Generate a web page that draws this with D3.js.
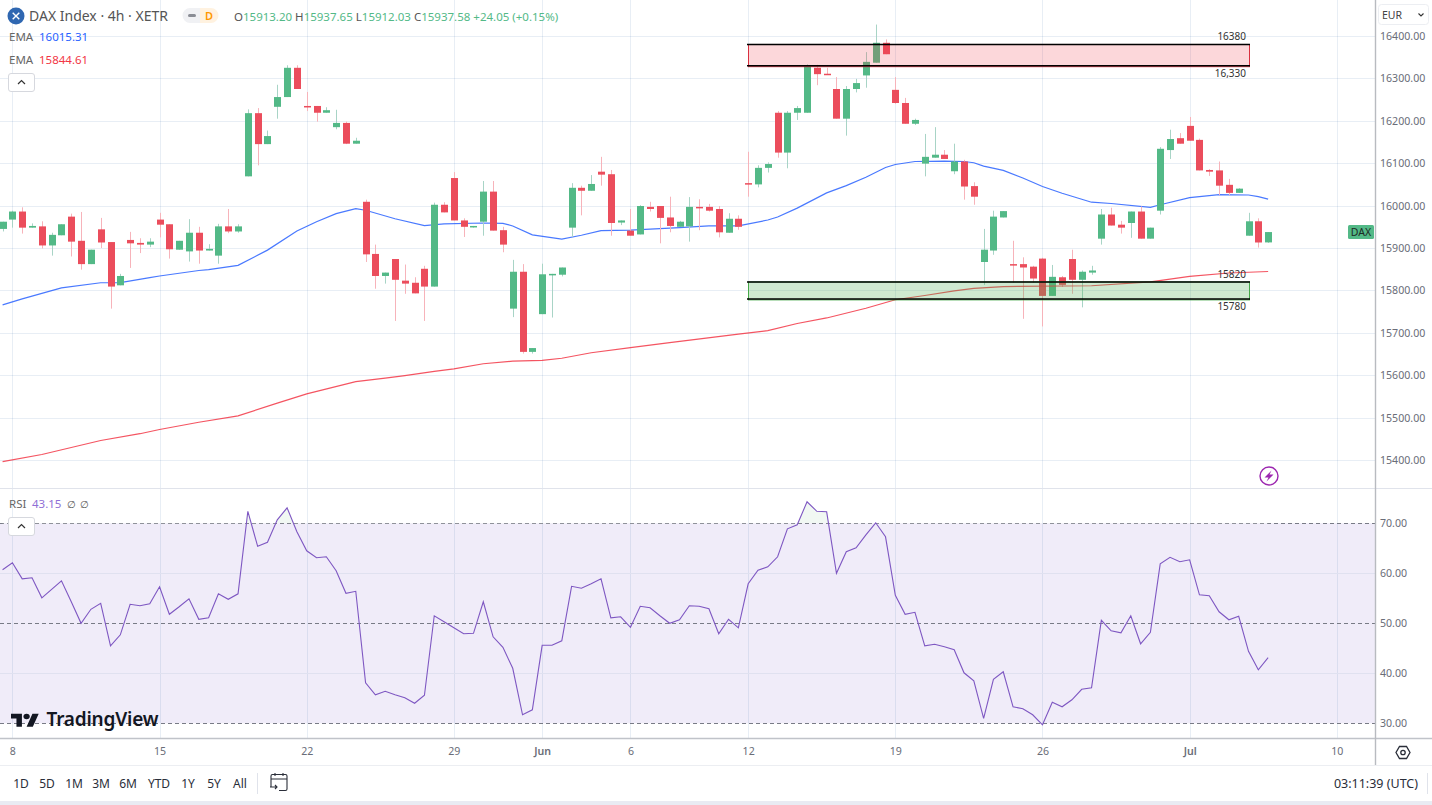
<!DOCTYPE html>
<html><head><meta charset="utf-8">
<script src="https://cdn.jsdelivr.net/npm/d3@7"></script>
<style>
html,body{margin:0;padding:0;background:#fff;overflow:hidden}
text{font-family:"Noto Sans","Open Sans",sans-serif}
</style></head><body><svg id="c" width="1432" height="805"></svg>
<script>
// ---- data (bars run from bar -1 to bar 128) ----
const opens=[15945,15967,15986,15948,15951,15906,15930,15974,15917,15862,
15944,15914,15812,15919,15912,15908,15967,15956,15896,15892,
15936,15894,15882,15951,15939,16069,16218,16145,16233,16256,
16325,16235,16235,16219,16185,16195,16146,16009,15886,15834,
15874,15823,15818,15851,15809,16002,16065,15965,15950,15962,
16033,15942,15757,15844,15655,15744,15837,15837,15948,16042,
16035,16080,16074,15960,15941,15932,15997,15999,15972,15950,
15951,15997,15997,15992,15936,15969,16053,16050,16089,16219,
16125,16219,16219,16325,16311,16275,16205,16275,16307,16337,
16384,16273,16242,16193,16099,16113,16120,16081,16104,16046,
15867,15894,15972,15862,15862,15856,15875,15787,15831,15874,
15825,15842,15922,15979,15955,15959,15986,15922,15988,16131,
16159,16188,16155,16084,16083,16049,16030,15929,15963,15913.20];
const highs=[15962,15988,15996,15958,15963,15936,15956,15981,15985,15896,
15971,15914,15839,15938,15923,15923,15983,15956,15917,15968,
15950,15909,15957,15992,15956,16227,16230,16177,16285,16331,
16331,16268,16235,16232,16226,16198,16160,16014,15908,15842,
15874,15861,15831,15858,16007,16008,16079,15970,15952,16058,
16058,15950,15872,15862,15664,15863,15839,15854,16053,16047,
16072,16115,16084,15965,15992,16001,16009,15999,16021,15964,
16020,16015,16004,15999,15982,15977,16127,16095,16102,16223,
16223,16235,16333,16332,16325,16303,16282,16299,16362,16427,
16392,16303,16254,16205,16169,16185,16131,16146,16108,16055,
15945,15988,15987,15917,15878,15858,15877,15860,15834,15896,
15847,15858,15992,15995,15964,15986,15998,15948,16138,16179,
16171,16209,16158,16086,16104,16063,16041,15983,15970,15937.65];
const lows=[15939,15948,15934,15948,15899,15882,15930,15880,15849,15862,
15900,15757,15812,15853,15888,15902,15925,15875,15896,15868,
15863,15894,15863,15935,15936,16069,16095,16145,16205,16256,
16275,16223,16198,16219,16180,16145,16146,15867,15804,15816,
15728,15792,15793,15728,15809,15984,15965,15926,15948,15929,
15941,15890,15737,15651,15651,15744,15736,15833,15926,15977,
16035,16047,15929,15954,15929,15932,15986,15911,15937,15950,
15915,15942,15986,15925,15936,15943,16021,16043,16078,16113,
16088,16202,16219,16284,16309,16205,16165,16267,16278,16337,
16357,16240,16193,16190,16069,16113,16110,16074,16014,16002,
15813,15884,15972,15818,15733,15818,15715,15787,15808,15792,
15760,15837,15908,15953,15934,15924,15922,15922,15979,16110,
16146,16153,16083,16070,16025,16025,16030,15929,15901,15912.03];
const closes=[15962,15986,15948,15952,15906,15931,15956,15915,15862,15896,
15913,15809,15834,15911,15908,15915,15955,15897,15917,15936,
15894,15898,15951,15939,15951,16218,16145,16164,16256,16325,
16275,16233,16219,16225,16195,16146,16153,15885,15834,15842,
15825,15816,15793,15809,16002,15984,15965,15950,15952,16033,
15941,15908,15844,15655,15664,15838,15839,15854,16042,16035,
16051,16073,15959,15965,15929,15999,15992,15971,15952,15962,
15997,15995,15988,15937,15969,15950,16050,16089,16098,16125,
16219,16230,16329,16310,16309,16205,16275,16289,16339,16384,
16357,16242,16193,16202,16115,16120,16110,16104,16045,16021,
15896,15974,15987,15860,15854,15828,15787,15832,15813,15825,
15844,15847,15979,15953,15948,15986,15922,15948,16134,16157,
16146,16153,16083,16080,16047,16030,16040,15963,15913,15937.58];
const rsiValues=[60.7,62.1,58.9,59.1,55.1,56.8,58.5,54.3,50,52.8,
54,45.5,47.7,53.8,53.5,53.9,57.3,51.8,53.3,54.9,
50.8,51.1,55.9,54.8,55.9,72.4,65.4,66.2,70.7,73.1,
68.3,64.5,63.1,63.3,60.5,56,56.4,38.1,35.7,36.4,
35.7,35.1,34,35.6,51.5,50.3,49.1,47.9,48,54.3,
47.3,45.2,41,31.7,32.7,45.6,45.6,46.5,57.4,57,
57.9,58.9,51.1,51.3,49.2,53.4,53.1,51.5,50,50.7,
53.5,53.4,52.9,47.9,50.8,49.1,57.9,60.6,61.3,63.3,
68.9,69.7,74.3,72.4,72.3,60,64.3,65.1,67.7,70.1,
67.3,55.6,51.8,52.2,45.5,45.8,45.3,44.7,40.1,38.5,
31,38.8,40.3,33.3,32.9,31.7,29.7,34.2,33.3,34.7,
36.8,37.1,50.6,48.5,48.1,51.5,45.9,48.2,61.9,63.2,
62.3,62.7,55.7,55.5,52.3,50.7,51.4,44.4,40.7,43.15];
const emaFastBars=[-1,1,5,9,11,14,15,19,20,23,26,29,31,33,35,36,39,42,44,48,50,51,53,56,58,60,63,68,71,74,77,78,80,83,85,87,89,90,92,95,97,98,99,101,103,105,107,110,112,116,117,120,123,126,127,128];
const emaFastValues=[15766,15780,15806,15818,15818.5,15830,15834,15847,15849,15859,15895,15940,15962,15981,15993,15989,15969,15953,15957,15959,15958,15952,15931,15921,15930,15941,15942,15948,15952,15952,15966,15973,15994,16030,16047,16067,16090,16097,16104,16105,16104,16101,16093,16083,16065,16045,16029,16008,16005,15996,16002,16019,16026,16025,16021,16015.31];
const emaSlowBars=[-1,3,9,13,15,19,23,27,30,35,38,40,43,45,48,51,54,56,59,63,67,74,77,80,83,87,90,93,96,98,101,110,116,120,124,128];
const emaSlowValues=[15396,15413,15446,15462,15472,15489,15504,15534,15556,15585,15593,15599,15609,15615,15627,15633,15635,15640,15653,15665,15677,15697,15705,15722,15735,15758,15778,15788,15799,15805,15809,15811,15820,15833,15841,15844.61];
const priceTicks=[15400,15500,15600,15700,15800,15900,16000,16100,16200,16300,16400];
const rsiTicks=[30,40,50,60,70];
const rsiDashed=[30,50,70];
const dateBars=[0,15,30,45,54,63,75,90,105,120,135];
const dateLabels=["8","15","22","29","Jun","6","12","19","26","Jul","10"];
const resistance=[16330,16380], support=[15780,15820];
const zoneBars=[75,126];
const ranges=["1D","5D","1M","3M","6M","YTD","1Y","5Y","All"];
const rangeCenters=[21,47,74,101,128,159,188,214,240];

// ---- layout and scales ----
const W=1432,axisX=1375;
const x=d3.scaleLinear().domain([0,135]).range([12.4,1336.8]);
const y=d3.scaleLinear().domain([15400,16400]).range([460,36]);
const r=d3.scaleLinear().domain([30,70]).range([723.3,523.3]);
const bars=opens.map((o,i)=>({bar:i-1,o,h:highs[i],l:lows[i],c:closes[i]}));
const UP="#53b987",DN="#eb4d5c",UPW="#a8d4c6",DNW="#f7b3ba",GRID="rgba(42,100,160,.11)",TXT="#6a6d78";
const px=v=>Math.round(v)+.5;
const svg=d3.select("#c");
svg.append("rect").attr("width",W).attr("height",805).attr("fill","#fff");

// RSI band
svg.append("rect").attr("x",0).attr("width",axisX).attr("y",r(70)).attr("height",r(30)-r(70)).attr("fill","#f0ecf9");

// grid
svg.append("g").selectAll("line").data(dateBars).join("line")
 .attr("x1",d=>px(x(d))).attr("x2",d=>px(x(d))).attr("y1",0).attr("y2",738)
 .attr("stroke",GRID);
svg.append("g").selectAll("line").data(priceTicks).join("line")
 .attr("x1",0).attr("x2",axisX).attr("y1",d=>px(y(d))).attr("y2",d=>px(y(d))).attr("stroke",GRID);
svg.append("g").selectAll("line").data([40,60]).join("line")
 .attr("x1",0).attr("x2",axisX).attr("y1",d=>px(r(d))).attr("y2",d=>px(r(d))).attr("stroke","#e0e1f0");
svg.append("g").selectAll("line").data(rsiDashed).join("line")
 .attr("x1",0).attr("x2",axisX).attr("y1",d=>Math.round(r(d))+.5).attr("y2",d=>Math.round(r(d))+.5)
 .attr("stroke","#787b86").attr("stroke-dasharray","4 3");

// pane separators
svg.append("line").attr("x1",0).attr("x2",W).attr("y1",488.5).attr("y2",488.5).attr("stroke","#e0e3eb");
svg.append("line").attr("x1",0).attr("x2",W).attr("y1",738.5).attr("y2",738.5).attr("stroke","#c0c3c9").attr("stroke-width",1.4);
svg.append("line").attr("x1",0).attr("x2",W).attr("y1",765.5).attr("y2",765.5).attr("stroke","#eceef2");
svg.append("rect").attr("x",0).attr("y",801).attr("width",W).attr("height",4).attr("fill","#e9ebf3");
svg.append("line").attr("x1",axisX+.5).attr("x2",axisX+.5).attr("y1",0).attr("y2",765).attr("stroke","#b8bbc0").attr("stroke-width",1.4);

// EMA lines
const lineFast=d3.line().x((d,i)=>x(emaFastBars[i])).y(d=>y(d));
const lineSlow=d3.line().x((d,i)=>x(emaSlowBars[i])).y(d=>y(d));
svg.append("path").attr("d",lineFast(emaFastValues)).attr("fill","none").attr("stroke","#2962ff").attr("stroke-width",1.2).attr("opacity",.85);

// candles
const cg=svg.append("g");
cg.selectAll("line").data(bars).join("line")
 .attr("x1",d=>px(x(d.bar))).attr("x2",d=>px(x(d.bar)))
 .attr("y1",d=>y(d.h)).attr("y2",d=>y(d.l))
 .attr("stroke",d=>d.c>=d.o?UPW:DNW).attr("stroke-width",1);
cg.selectAll("rect").data(bars).join("rect")
 .attr("x",d=>Math.round(x(d.bar))-3).attr("width",7)
 .attr("y",d=>y(Math.max(d.o,d.c)))
 .attr("height",d=>Math.max(1.5,Math.abs(y(d.o)-y(d.c))))
 .attr("fill",d=>d.c>=d.o?UP:DN);
svg.append("path").attr("d",lineSlow(emaSlowValues)).attr("fill","none").attr("stroke","#f23645").attr("stroke-width",1.2).attr("opacity",.85);

// zones
function zone(vals,fill,edge){
 const x0=Math.round(x(zoneBars[0])),x1=Math.round(x(zoneBars[1]));
 const t=y(vals[1]),b=y(vals[0]);
 svg.append("rect").attr("x",x0+.5).attr("y",t).attr("width",x1-x0).attr("height",b-t+1)
  .attr("fill",fill).attr("stroke",edge).attr("stroke-width",1);
 [t,b].forEach(v=>svg.append("line").attr("x1",x0-1).attr("x2",x1+1).attr("y1",v).attr("y2",v).attr("stroke","#000").attr("stroke-width",1.5));
}
zone(resistance,"rgba(242,54,69,.2)","#d9303f");
zone(support,"rgba(76,175,80,.27)","#45a849");
const zoneLabels=[["16380",y(resistance[1])-4],["16,330",y(resistance[0])+11],["15820",y(support[1])-4],["15780",y(support[0])+11]];
svg.append("g").selectAll("text").data(zoneLabels).join("text")
 .attr("x",1246).attr("y",d=>d[1]).attr("text-anchor","end").attr("font-size",10).attr("fill","#333").text(d=>d[0]);

// RSI
const rsiLine=d3.line().x((d,i)=>x(i-1)).y(d=>r(d));
svg.append("clipPath").attr("id","over").append("rect").attr("x",0).attr("y",495).attr("width",axisX).attr("height",r(70)-495);
svg.append("path").attr("clip-path","url(#over)").attr("d",d3.area().x((d,i)=>x(i-1)).y0(r(70)).y1(d=>r(d))(rsiValues)).attr("fill","#f1f8f3");
svg.append("path").attr("d",rsiLine(rsiValues)).attr("fill","none").attr("stroke","#7e57c2").attr("stroke-width",1.1);

// axes
const fmt=d3.format(".2f");
function axisStyle(g){g.select(".domain").remove();g.selectAll("text").attr("font-size",10.6).attr("fill",TXT).attr("font-family",'"Noto Sans","Open Sans",sans-serif');g.selectAll("line").remove();}
svg.append("g").attr("transform",`translate(${axisX},0)`).call(d3.axisRight(y).tickValues(priceTicks).tickFormat(fmt).tickSize(0).tickPadding(5)).call(axisStyle);
svg.append("g").attr("transform",`translate(${axisX},0)`).call(d3.axisRight(r).tickValues(rsiTicks).tickFormat(fmt).tickSize(0).tickPadding(5)).call(axisStyle);
const xAxis=d3.axisBottom(x).tickValues(dateBars).tickFormat((d,i)=>dateLabels[i]).tickSize(0).tickPadding(0);
svg.append("g").attr("transform","translate(0,747.5)").call(xAxis).call(axisStyle).selectAll("text").attr("font-weight",(d,i)=>/[A-Z]/.test(dateLabels[i])?600:400);

// last price tag
const tagY=y(closes[closes.length-1]);
svg.append("rect").attr("x",1348).attr("y",tagY-7).attr("width",26).attr("height",14).attr("rx",1.5).attr("fill",UP);
svg.append("text").attr("x",1361).attr("y",tagY+4).attr("text-anchor","middle").attr("font-size",10.5).attr("fill","#1d2b25").text("DAX");

// header
svg.append("circle").attr("cx",16).attr("cy",16).attr("r",8.5).attr("fill","#2f67b1");
svg.append("path").attr("d","M12.7 12.7L19.3 19.3M19.3 12.7L12.7 19.3").attr("stroke","#fff").attr("stroke-width",1.4);
svg.append("text").attr("x",29).attr("y",21).attr("font-size",14).attr("fill","#555").text("DAX Index · 4h · XETR");
svg.append("path").attr("d","M190 8h10v15h-10a7.5 7.5 0 0 1 0-15z").attr("fill","#f0f1f4");
svg.append("path").attr("d","M200 8h11a7.5 7.5 0 0 1 0 15h-11z").attr("fill","#fff2e0");
svg.append("rect").attr("x",188).attr("y",14).attr("width",8).attr("height",3).attr("rx",1.5).attr("fill","#8a8d95");
svg.append("text").attr("x",209).attr("y",20).attr("text-anchor","middle").attr("font-size",11).attr("font-weight",600).attr("fill","#ff9800").text("D");
const ohlc=svg.append("text").attr("x",234).attr("y",21).attr("font-size",11.5).attr("fill",UP);
[["O","#555"],["15913.20",UP],[" H","#555"],["15937.65",UP],[" L","#555"],["15912.03",UP],[" C","#555"],["15937.58",UP],[" +24.05 (+0.15%)",UP]]
 .forEach(s=>ohlc.append("tspan").attr("fill",s[1]).text(s[0].replace(/^ /,"\u00a0")));
function legend(name,val,yy,col){
 svg.append("text").attr("x",9).attr("y",yy).attr("font-size",11.5).attr("fill","#666").text(name);
 svg.append("text").attr("x",39).attr("y",yy).attr("font-size",11.5).attr("fill",col).text(val);
}
legend("EMA","16015.31",41,"#2962ff");
legend("EMA","15844.61",64,"#f23645");
svg.append("text").attr("x",9).attr("y",508).attr("font-size",11.5).attr("fill","#666").text("RSI");
svg.append("text").attr("x",32).attr("y",508).attr("font-size",11.5).attr("fill","#8f6fd6").text("43.15");
svg.append("text").attr("x",71).attr("y",508).attr("text-anchor","middle").attr("font-size",10).attr("fill","#555").text("∅");
svg.append("text").attr("x",84).attr("y",508).attr("text-anchor","middle").attr("font-size",10).attr("fill","#555").text("∅");
function chev(yy){
 svg.append("rect").attr("x",8.5).attr("y",yy+.5).attr("width",26).attr("height",18).attr("rx",2.5).attr("fill","#fff").attr("stroke","#d6d8de");
 svg.append("path").attr("d",`M18 ${yy+11}l3.5-3.5 3.5 3.5`).attr("fill","none").attr("stroke","#333").attr("stroke-width",1.2);
}
chev(73);chev(517);

// EUR button
svg.append("rect").attr("x",1378.5).attr("y",4.5).attr("width",50).attr("height",20).attr("rx",3).attr("fill","#fff").attr("stroke","#eceef2");
svg.append("text").attr("x",1382).attr("y",19).attr("font-size",10.5).attr("fill","#444").text("EUR");
svg.append("path").attr("d","M1418.5 13.5l2.5 2.5 2.5-2.5").attr("fill","none").attr("stroke","#333").attr("stroke-width",1.1);

// lightning badge
svg.append("circle").attr("cx",1269).attr("cy",476).attr("r",9).attr("fill","#fff").attr("stroke","#9c27b0").attr("stroke-width",1.4);
svg.append("path").attr("d","M1271.5 470.5L1264.5 477.5H1268.5L1266.5 481.5L1273.5 474.5H1269.5Z").attr("fill","#9c27b0");

// settings hexagon
svg.append("path").attr("d","M1399.5 746.5h7l3.5 6-3.5 6h-7l-3.5-6z").attr("fill","none").attr("stroke","#2a2e39").attr("stroke-width",1.3);
svg.append("circle").attr("cx",1403).attr("cy",752.5).attr("r",2.2).attr("fill","none").attr("stroke","#2a2e39").attr("stroke-width",1.3);

// TradingView logo
svg.append("g").attr("transform","translate(11,711) scale(.78,.68)").call(g=>{
 g.append("path").attr("d","M14 23H7V11H0V4h14v19zM28 23h-8l7.5-19h8L28 23z").attr("fill","#131722");
 g.append("circle").attr("cx",20).attr("cy",8).attr("r",4).attr("fill","#131722");
});
svg.append("text").attr("x",46.5).attr("y",726).attr("font-size",19).attr("font-weight",600).attr("font-family","Inter,'Noto Sans',sans-serif").attr("letter-spacing","-0.2").attr("fill","#131722").text("TradingView");

// range bar
svg.append("g").selectAll("text").data(ranges).join("text")
 .attr("x",(d,i)=>rangeCenters[i]).attr("y",787.5).attr("text-anchor","middle").attr("font-size",12).attr("fill","#2a2e39").text(d=>d);
svg.append("line").attr("x1",257.5).attr("x2",257.5).attr("y1",773).attr("y2",794).attr("stroke","#e0e3eb");
svg.append("path").attr("d","M275 773v3M283 773v3M271 787v-11a1.5 1.5 0 0 1 1.5-1.5h13a1.5 1.5 0 0 1 1.5 1.5v13a1.5 1.5 0 0 1-1.5 1.5H279M271 779h16M270 787h7m-2-2l2 2-2 2").attr("fill","none").attr("stroke","#2a2e39").attr("stroke-width",1.1);
svg.append("text").attr("x",1418).attr("y",787.5).attr("text-anchor","end").attr("font-size",12.5).attr("fill","#2a2e39").text("03:11:39 (UTC)");
svg.append("line").attr("x1",1427.5).attr("x2",1427.5).attr("y1",773).attr("y2",794).attr("stroke","#e0e3eb");
</script></body></html>
